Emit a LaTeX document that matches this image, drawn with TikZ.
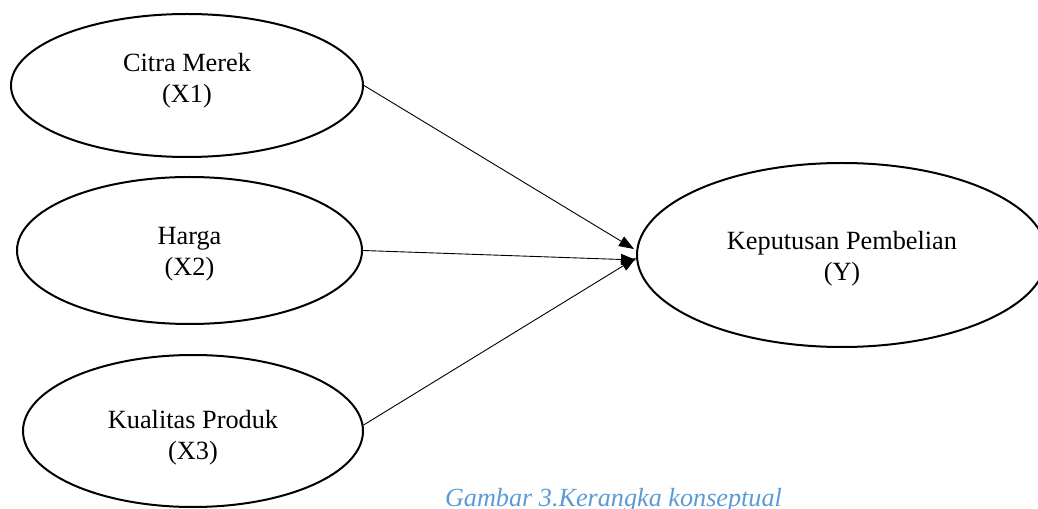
\documentclass[tikz,border=0pt]{standalone}
\usepackage{fontspec}
\setmainfont{Liberation Serif}
\usetikzlibrary{shapes.geometric,arrows.meta}
\definecolor{capblue}{RGB}{91,155,213}
\newcommand{\topst}[1]{\rule{0pt}{#1bp}}
\newcommand{\botst}[1]{\rule[-#1bp]{0pt}{#1bp}}
\begin{document}
\begin{tikzpicture}[x=1bp,y=-1bp,
  var/.style={ellipse, draw, line width=2bp, inner sep=0pt, align=center,
    font=\fontsize{26.3bp}{31bp}\selectfont},
  link/.style={line width=0.9bp, -{Triangle[length=15bp,width=11bp]}},
  captext/.style={font=\fontsize{26.2bp}{30bp}\selectfont\itshape, text=capblue,
    inner sep=0pt, anchor=base}]
\useasboundingbox (0,0) rectangle (1038,509);
\node[var, minimum width=352bp, minimum height=143bp] (c1) at (187,85.5)
  {\topst{19}Citra Merek\\(X1)\botst{15}};
\node[var, minimum width=345bp, minimum height=147bp] (h) at (189.5,250.5)
  {\topst{27}Harga\\(X2)\botst{7}};
\node[var, minimum width=340bp, minimum height=152bp] (k) at (193,431)
  {\topst{32}Kualitas Produk\\(X3)\botst{7}};
\node[var, minimum width=410bp, minimum height=184bp] (kp) at (842,255)
  {\topst{28}Keputusan Pembelian\\(Y)\botst{7}};
\node[captext] (capt) at (613.5,506) {Gambar 3.Kerangka konseptual};
\draw[link] (c1.east) -- ([xshift=-2bp,yshift=6bp]kp.west);
\draw[link] (h.east) -- ([yshift=-5bp]kp.west);
\draw[link] (k.2) -- ([yshift=-3bp]kp.west);
\end{tikzpicture}
\end{document}
